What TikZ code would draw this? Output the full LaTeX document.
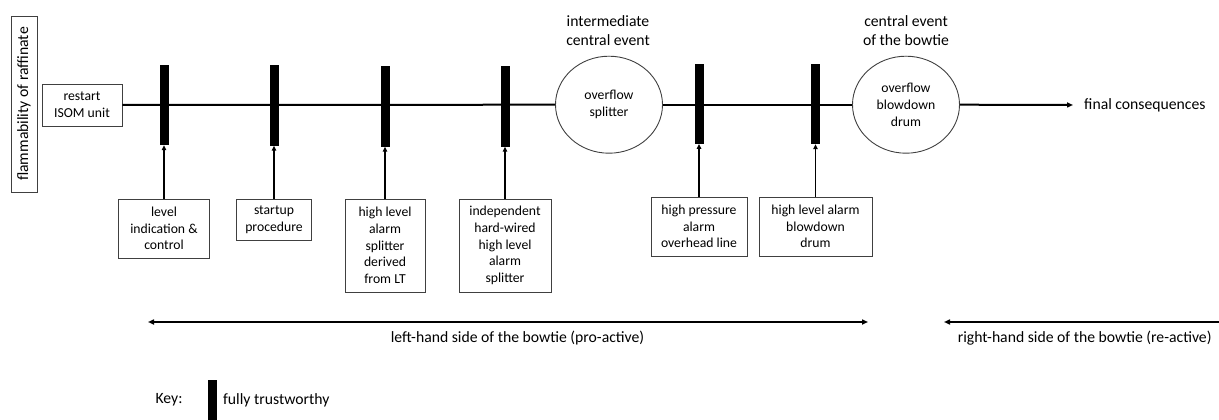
\documentclass[tikz,border=0pt]{standalone}
\usepackage{fontspec}
\setmainfont{Carlito}
\usetikzlibrary{arrows.meta,shapes.geometric}
\tikzset{sidetip/.tip={Triangle[length=6pt,width=5pt]}}
\begin{document}
\begin{tikzpicture}[x=1pt,y=-1pt,
  small/.style={font=\fontsize{13.7}{16.7}\selectfont},
  large/.style={font=\fontsize{15.7}{19.3}\selectfont},
  box/.style={draw=black!75, line width=0.9pt, align=center, inner sep=0pt, small},
  barrier/.style={fill=black, draw=none, minimum width=9pt, minimum height=80pt, inner sep=0pt},
  event/.style={ellipse, draw=black!75, line width=0.9pt, minimum width=107pt, minimum height=97pt, inner sep=0pt, align=center, small},
  title/.style={align=center, inner sep=0pt, large},
  spine/.style={line width=2pt},
  feed/.style={line width=1.4pt, -{Triangle[length=5pt,width=4.5pt]}},
  side/.style={line width=1.8pt}
]
\useasboundingbox (0,0) rectangle (1219,420);

% hazard and top event
\node[box, large, rotate=90, minimum width=176pt, minimum height=26pt] (haz) at (24,104) {flammability of raffinate};
\node[box, minimum width=80pt, minimum height=42pt] (top) at (82,105) {restart\\ISOM unit};

% barriers on the spine
\node[barrier] (r1) at (164,105) {};
\node[barrier] (r2) at (274,105.5) {};
\node[barrier] (r3) at (385,106.5) {};
\node[barrier] (r4) at (505,106.5) {};
\node[barrier] (r5) at (699,103.7) {};
\node[barrier] (r6) at (815.5,104) {};

% events
\node[event] (e1) at (609,104.7) {overflow\\splitter};
\node[event] (e2) at (906,104.7) {overflow\\blowdown\\drum};
\node[title] (t1) at (608,30.3) {intermediate\\central event};
\node[title] (t2) at (906,30.3) {central event\\of the bowtie};
\node[large, anchor=west, inner sep=0pt] (fc) at (1084,105) {final consequences};

% the spine
\draw[spine] (top.east) -- (e1.west);
\draw[spine] (e1.east) -- (e2.west);
\draw[spine, -{sidetip}] (e2.east) -- ([xshift=-11pt]fc.west);

% barrier descriptions
\node[box, minimum width=91pt, minimum height=59pt] (b1) at (164,228.5) {level\\indication \&\\control};
\node[box, minimum width=75pt, minimum height=41pt] (b2) at (274,219.5) {startup\\procedure};
\node[box, minimum width=80pt, minimum height=93pt] (b3) at (385,245.5) {high level\\alarm\\splitter\\derived\\from LT};
\node[box, minimum width=92pt, minimum height=93pt] (b4) at (505,245.5) {independent\\hard-wired\\high level\\alarm\\splitter};
\node[box, minimum width=96pt, minimum height=59pt] (b5) at (699,226.5) {high pressure\\alarm\\overhead line};
\node[box, minimum width=113pt, minimum height=59pt] (b6) at (815.5,226.5) {high level alarm\\blowdown\\drum};

\foreach \i in {1,...,6} \draw[feed] (b\i.north) -- (r\i.south);

% sides of the bowtie
\coordinate (lhsW) at (148,322);
\coordinate (lhsE) at (868,322);
\coordinate (rhsW) at (944,322);
\coordinate (rhsE) at (1219,322);
\draw[side, {sidetip}-{sidetip}] (lhsW) -- (lhsE);
\draw[side, {sidetip}-] (rhsW) -- (rhsE);
\node[large, inner sep=0pt] (lhs) at (517.5,338.5) {left-hand side of the bowtie (pro-active)};
\node[large, inner sep=0pt] (rhs) at (1084.7,338.5) {right-hand side of the bowtie (re-active)};

% key
\node[large, inner sep=0pt] (key) at (169,400) {Key:};
\node[barrier, minimum height=40pt] (keybar) at (212.5,400) {};
\node[large, anchor=west, inner sep=0pt] (keytxt) at (223,400) {fully trustworthy};
\end{tikzpicture}
\end{document}
